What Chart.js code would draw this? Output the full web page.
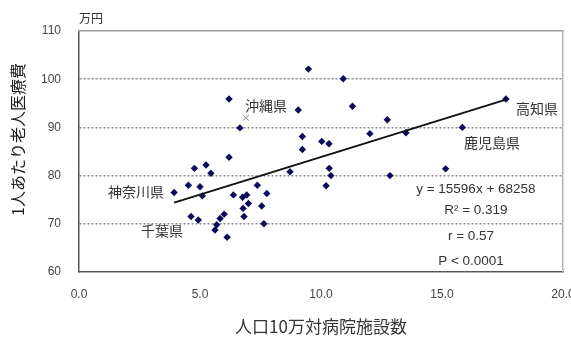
<!DOCTYPE html>
<html>
<head>
<meta charset="utf-8">
<script src="https://cdn.jsdelivr.net/npm/chart.js@4"></script>
<style>
  html, body { margin: 0; padding: 0; background: #fff; }
  #wrap { width: 571px; height: 338px; position: relative; }
</style>
</head>
<body>
<div id="wrap"><canvas id="c"></canvas></div>
<script>
// 都道府県別：人口10万対病院施設数 (x) と 1人あたり老人医療費 (y, 万円)
const hospitalsPer100k = [3.93, 4.52, 4.63, 4.77, 4.93, 5.0, 5.1, 5.25, 5.45, 5.62, 5.69, 5.83, 6.0, 6.12, 6.2, 6.2,
  6.38, 6.65, 6.76, 6.78, 6.82, 6.93, 7.0, 7.37, 7.55, 7.64, 7.76, 8.72, 9.06, 9.23, 9.23, 9.48, 10.03, 10.21,
  10.33, 10.34, 10.41, 10.92, 11.3, 12.02, 12.74, 12.85, 13.51, 15.15, 15.84, 17.64];
const costPerPerson = [76.5, 78.0, 71.5, 81.5, 70.8, 77.7, 75.8, 82.2, 80.5, 68.7, 69.8, 71.1, 72.0, 67.2, 83.8, 95.9,
  76.0, 89.9, 75.5, 73.2, 71.5, 76.0, 74.2, 78.0, 73.7, 70.0, 76.3, 80.8, 93.6, 88.1, 85.4, 102.1, 87.1, 77.9,
  86.6, 81.5, 80.0, 100.1, 94.4, 88.7, 91.6, 80.0, 88.9, 81.4, 90.0, 95.9];

// 沖縄県 (回帰から除外、× 印)
const okinawaX = [6.9];
const okinawaY = [92.0];

// 回帰式 y = 15596x + 68258 の係数と、軸の単位 (施設数, 万円) への換算値
const slopeRaw = 15596;
const interceptRaw = 68258;
const slopeUnit = 10000;
const interceptUnit = 1000;

const xTickValues = [0, 5, 10, 15, 20];
const yTickValues = [60, 70, 80, 90, 100, 110];

const prefectureNames = ['沖縄県', '高知県', '鹿児島県', '神奈川県', '千葉県'];
const statLines = ['y = 15596x + 68258', 'R² = 0.319', 'r = 0.57', 'P < 0.0001'];

// 注記の配置 (データ座標)
const nameAnchors = [[7.73, 94.6], [18.93, 93.8], [17.07, 86.8], [2.36, 76.6], [3.43, 68.5]];
const statAnchors = [[16.4, 77.2], [16.4, 72.9], [16.2, 67.5], [16.2, 62.3]];

const points = hospitalsPer100k.map((v, i) => ({ x: v, y: costPerPerson[i] }));
const xMin = Math.min(...hospitalsPer100k);
const xMax = Math.max(...hospitalsPer100k);
const fitLine = [xMin, xMax].map(v => ({
  x: v,
  y: slopeRaw / slopeUnit * v + interceptRaw / interceptUnit
}));
const okinawa = okinawaX.map((v, i) => ({ x: v, y: okinawaY[i] }));

const CJK = '"Noto Sans CJK JP", "Noto Sans", sans-serif';
const LAT = '"Liberation Sans", Arial, sans-serif';

const notesPlugin = {
  id: 'notes',
  afterDatasetsDraw(chart) {
    const { ctx, chartArea, scales: { x, y } } = chart;
    ctx.save();
    ctx.fillStyle = '#333';
    ctx.textAlign = 'center';
    ctx.textBaseline = 'middle';

    ctx.font = '14px ' + CJK;
    prefectureNames.forEach((t, i) => {
      const [ax, ay] = nameAnchors[i];
      ctx.fillText(t, x.getPixelForValue(ax), y.getPixelForValue(ay));
    });

    ctx.font = '13.5px ' + LAT;
    statLines.forEach((t, i) => {
      const [ax, ay] = statAnchors[i];
      ctx.fillText(t, x.getPixelForValue(ax), y.getPixelForValue(ay));
    });

    // 単位
    ctx.font = '12px ' + CJK;
    ctx.fillText('万円', chartArea.left + 12, chartArea.top - 13);

    // 縦軸タイトル
    ctx.font = '16px ' + CJK;
    ctx.fillStyle = '#1a1a1a';
    ctx.translate(18, (chartArea.top + chartArea.bottom) / 2 - 12);
    ctx.rotate(-Math.PI / 2);
    ctx.fillText('1人あたり老人医療費', 0, 0);
    ctx.restore();
  }
};

new Chart(document.getElementById('c'), {
  type: 'scatter',
  data: {
    datasets: [
      {
        label: '回帰直線',
        data: fitLine,
        showLine: true,
        borderColor: '#111',
        borderWidth: 2,
        pointRadius: 0,
        order: 0
      },
      {
        label: '都道府県',
        data: points,
        pointStyle: 'rectRot',
        pointRadius: 3.7,
        pointHoverRadius: 3.7,
        backgroundColor: '#0b0b5e',
        borderColor: '#0b0b5e',
        borderWidth: 0,
        order: 1
      },
      {
        label: '沖縄県',
        data: okinawa,
        pointStyle: 'crossRot',
        pointRadius: 4,
        borderColor: '#7a7aa0',
        borderWidth: 1,
        order: 2
      }
    ]
  },
  options: {
    responsive: true,
    maintainAspectRatio: false,
    animation: false,
    events: [],
    layout: { padding: { left: 0, right: 8, top: 31, bottom: 0 } },
    plugins: { legend: { display: false }, tooltip: { enabled: false } },
    scales: {
      x: {
        type: 'linear',
        position: 'bottom',
        min: 0, max: 20,
        afterBuildTicks(s) { s.ticks = xTickValues.map(v => ({ value: v })); },
        afterFit(s) { s.height = 66; s.paddingLeft = 0; s.paddingRight = 0; },
        ticks: {
          padding: 15,
          color: '#444',
          font: { family: LAT, size: 12 },
          callback: v => Number(v).toFixed(1)
        },
        grid: { display: false, drawTicks: false },
        border: { display: true, color: '#555', width: 1.5 },
        title: {
          display: true,
          text: '人口10万対病院施設数',
          color: '#333',
          font: { family: CJK, size: 17 },
          padding: { top: 0, bottom: 1 }
        }
      },
      y: {
        type: 'linear',
        position: 'left',
        min: 60, max: 110,
        afterBuildTicks(s) { s.ticks = yTickValues.map(v => ({ value: v })); },
        afterFit(s) { s.width = 79; },
        ticks: {
          padding: 18,
          color: '#444',
          font: { family: LAT, size: 12 }
        },
        grid: {
          drawTicks: false,
          lineWidth: 1.5,
          color: c => (c.tick && c.tick.value > 60 && c.tick.value < 110) ? '#8a8a8a' : 'rgba(0,0,0,0)'
        },
        border: { display: true, color: '#555', width: 1.5, dash: [2, 2] }
      },
      xTop: {
        type: 'linear',
        position: 'top',
        min: 0, max: 20,
        afterFit(s) { s.height = 0; s.paddingLeft = 0; s.paddingRight = 0; },
        ticks: { display: false },
        grid: { display: false, drawTicks: false },
        border: { display: true, color: '#9a9a9a', width: 1.5 }
      },
      yRight: {
        type: 'linear',
        position: 'right',
        min: 60, max: 110,
        afterFit(s) { s.width = 0; },
        ticks: { display: false },
        grid: { display: false, drawTicks: false },
        border: { display: true, color: '#b5b5b5', width: 1.5 }
      }
    }
  },
  plugins: [notesPlugin]
});
</script>
</body>
</html>
